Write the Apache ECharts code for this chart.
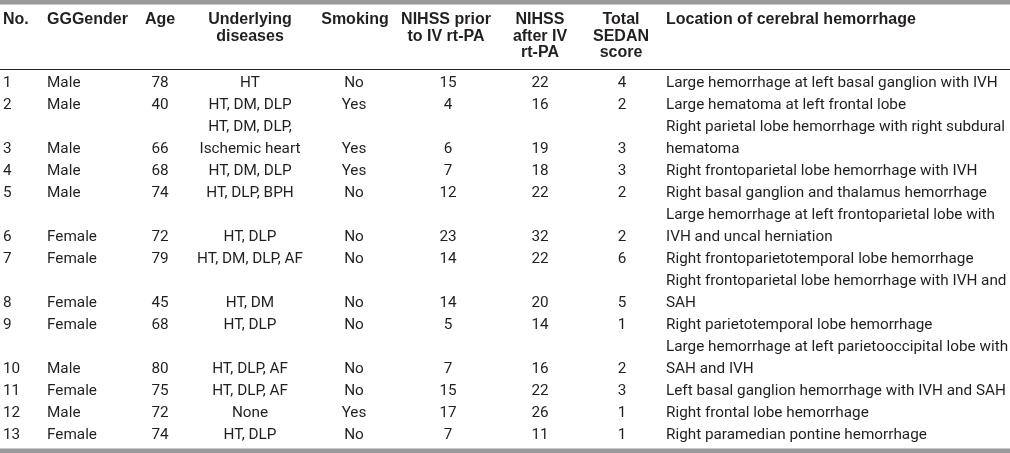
<!DOCTYPE html>
<html><head><meta charset="utf-8">
<script src="https://cdn.jsdelivr.net/npm/echarts@6/dist/echarts.min.js"></script>
<style>html,body{margin:0;padding:0;background:#fff}#c{width:1010px;height:453px}</style>
</head><body><div id="c"></div>
<script>
// ---- data ----
const headers = [
  ['No.'], ['GGGender'], ['Age'], ['Underlying', 'diseases'], ['Smoking'],
  ['NIHSS prior', 'to IV rt-PA'], ['NIHSS', 'after IV', 'rt-PA'], ['Total', 'SEDAN', 'score'],
  ['Location of cerebral hemorrhage']
];
const caseNo = ['1','2','3','4','5','6','7','8','9','10','11','12','13'];
const gender = ['Male','Male','Male','Male','Male','Female','Female','Female','Female','Male','Female','Male','Female'];
const age = [78, 40, 66, 68, 74, 72, 79, 45, 68, 80, 75, 72, 74];
const diseases = [['HT'], ['HT, DM, DLP'], ['HT, DM, DLP,', 'Ischemic heart'], ['HT, DM, DLP'], ['HT, DLP, BPH'],
  ['HT, DLP'], ['HT, DM, DLP, AF'], ['HT, DM'], ['HT, DLP'], ['HT, DLP, AF'], ['HT, DLP, AF'], ['None'], ['HT, DLP']];
const smoking = ['No','Yes','Yes','Yes','No','No','No','No','No','No','No','Yes','No'];
const nihssPrior = [15, 4, 6, 7, 12, 23, 14, 14, 5, 7, 15, 17, 7];
const nihssAfter = [22, 16, 19, 18, 22, 32, 22, 20, 14, 16, 22, 26, 11];
const sedan = [4, 2, 3, 3, 2, 2, 6, 5, 1, 2, 3, 1, 1];
const hemorrhageSite = [
  ['Large hemorrhage at left basal ganglion with IVH'],
  ['Large hematoma at left frontal lobe'],
  ['Right parietal lobe hemorrhage with right subdural', 'hematoma'],
  ['Right frontoparietal lobe hemorrhage with IVH'],
  ['Right basal ganglion and thalamus hemorrhage'],
  ['Large hemorrhage at left frontoparietal lobe with', 'IVH and uncal herniation'],
  ['Right frontoparietotemporal lobe hemorrhage'],
  ['Right frontoparietal lobe hemorrhage with IVH and', 'SAH'],
  ['Right parietotemporal lobe hemorrhage'],
  ['Large hemorrhage at left parietooccipital lobe with', 'SAH and IVH'],
  ['Left basal ganglion hemorrhage with IVH and SAH'],
  ['Right frontal lobe hemorrhage'],
  ['Right paramedian pontine hemorrhage']
];

// ---- layout ----
const W = 1010, H = 453;
const colX = [3, 47, 160, 250, 354, 448, 540, 622, 666];
const colAlign = ['left','left','center','center','center','center','center','center','left'];
const headX = [3, 47, 160, 250, 355, 446, 540, 621, 666];
const textColor = '#231f20';
const headFont = 'bold 16px "Liberation Sans", Arial, sans-serif';
const bodyFamily = 'Roboto, "Liberation Sans", sans-serif';
const bodySize = 15.3;
const headY0 = 20, headLH = 16.5;
const bodyY0 = 83, bodyLH = 22;

const els = [];
els.push({type:'rect', shape:{x:0, y:0, width:W, height:4.5}, style:{fill:'#9a9a9c'}, silent:true});
els.push({type:'rect', shape:{x:0, y:448.5, width:W, height:4.5}, style:{fill:'#9a9a9c'}, silent:true});
els.push({type:'line', shape:{x1:0, y1:69.5, x2:W, y2:69.5}, style:{stroke:'#231f20', lineWidth:1}, silent:true});

headers.forEach((lines, c) => {
  lines.forEach((t, k) => {
    els.push({type:'text', x: headX[c], y: headY0 + k*headLH, silent:true,
      style:{text:t, font:headFont, fill:textColor, align:colAlign[c], verticalAlign:'middle'}});
  });
});

let line = 0;
for (let r = 0; r < caseNo.length; r++) {
  const n = Math.max(diseases[r].length, hemorrhageSite[r].length);
  const lastY = bodyY0 + (line + n - 1) * bodyLH;
  const single = [caseNo[r], gender[r], String(age[r]), null, smoking[r], String(nihssPrior[r]), String(nihssAfter[r]), String(sedan[r]), null];
  single.forEach((t, c) => {
    if (t === null) return;
    els.push({type:'text', x: colX[c], y: lastY, silent:true,
      style:{text:t, fontFamily:bodyFamily, fontSize:bodySize, fill:textColor, align:colAlign[c], verticalAlign:'middle'}});
  });
  [[3, diseases[r]], [8, hemorrhageSite[r]]].forEach(([c, arr]) => {
    const start = line + n - arr.length;
    arr.forEach((t, k) => {
      els.push({type:'text', x: colX[c], y: bodyY0 + (start + k) * bodyLH, silent:true,
        style:{text:t, fontFamily:bodyFamily, fontSize:bodySize, fill:textColor, align:colAlign[c], verticalAlign:'middle'}});
    });
  });
  line += n;
}

const chart = echarts.init(document.getElementById('c'), null, {renderer:'canvas'});
chart.setOption({animation:false, backgroundColor:'#fff', graphic:{elements:els}});
</script></body></html>
